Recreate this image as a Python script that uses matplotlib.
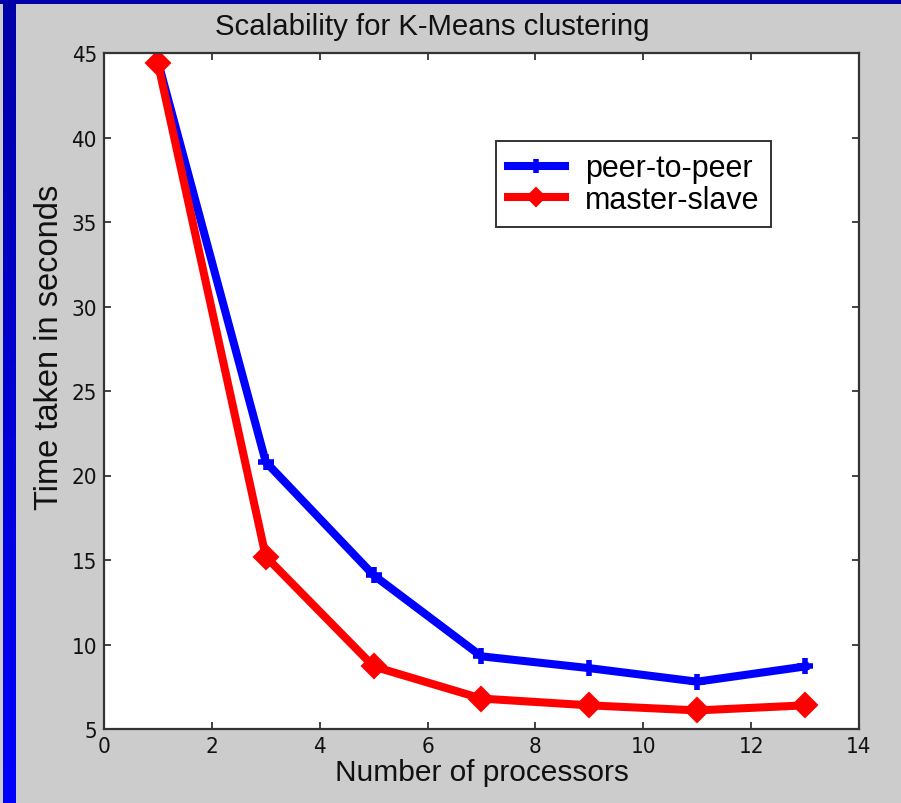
import matplotlib
matplotlib.use("Agg")
import matplotlib.pyplot as plt
import numpy as np
from matplotlib.patches import Rectangle
from matplotlib.colors import LinearSegmentedColormap
from matplotlib import font_manager

# ---- data ----
processors = [1, 3, 5, 7, 9, 11, 13]
peer_to_peer = [44.5, 20.8, 14.1, 9.3, 8.6, 7.8, 8.7]
master_slave = [44.4, 15.2, 8.7, 6.8, 6.4, 6.1, 6.4]
series_labels = ["peer-to-peer", "master-slave"]
x_ticks = [0, 2, 4, 6, 8, 10, 12, 14]
y_ticks = [5, 10, 15, 20, 25, 30, 35, 40, 45]
title = "Scalability for K-Means clustering"
x_label = "Number of processors"
y_label = "Time taken in seconds"

W, H = 901, 804
fig = plt.figure(figsize=(W / 100, H / 100), dpi=100, facecolor="#cccccc")

# frame decoration (blue bands)
fig.add_artist(Rectangle((0, 1 - 5 / H), 1, 5 / H, transform=fig.transFigure,
                         facecolor="#0000a8", edgecolor="none", zorder=0))
gax = fig.add_axes([3 / W, 0, 13 / W, 1 - 5 / H], zorder=0)
grad = np.linspace(0, 1, 256).reshape(-1, 1)
cmap = LinearSegmentedColormap.from_list("b", ["#0000ff", "#0000a8"])
gax.imshow(grad, aspect="auto", cmap=cmap, origin="lower", extent=[0, 1, 0, 1])
gax.axis("off")

ax = fig.add_axes([104 / W, (H - 730) / H, 755 / W, 676 / H])
ax.set_facecolor("white")

ax.plot(processors, peer_to_peer, color="#0000ff", lw=5.8, marker="+",
        ms=12, mew=4, mec="#0000ff", label=series_labels[0])
ax.plot(processors, master_slave, color="#ff0000", lw=5.8, marker="D",
        ms=12, mew=1.5, mec="#ff0000", mfc="#ff0000", label=series_labels[1])

ax.set_xlim(0, 14)
ax.set_ylim(5, 45)
ax.set_xticks(x_ticks)
ax.set_yticks(y_ticks)

names = {f.name for f in font_manager.fontManager.ttflist}
if "Liberation Sans Narrow" in names:
    tick_font, tick_stretch = ["Liberation Sans Narrow", "DejaVu Sans"], "normal"
else:
    tick_font, tick_stretch = ["DejaVu Sans"], "condensed"

ax.tick_params(direction="in", length=5, width=1.2, top=True, right=True,
               color="#222222", labelsize=16, pad=5)
for lbl in ax.get_xticklabels() + ax.get_yticklabels():
    lbl.set_family(tick_font)
    lbl.set_stretch(tick_stretch)
    lbl.set_color("#111111")
for s in ax.spines.values():
    s.set_linewidth(1.6)
    s.set_color("#333333")

txt_font = ["Liberation Sans", "DejaVu Sans"]
fig.text(432 / W, 1 - 27 / H, title, ha="center", va="center",
         fontsize=21.2, family=txt_font, color="#111111")
fig.text(482 / W, 1 - 773 / H, x_label, ha="center", va="center",
         fontsize=21.5, family=txt_font, color="#111111")
fig.text(50 / W, 1 - 347 / H, y_label, ha="center", va="center", rotation=90,
         fontsize=23.5, family=txt_font, color="#111111")

leg = ax.legend(loc="upper left", bbox_to_anchor=(496 / W, 1 - 142 / H),
                bbox_transform=fig.transFigure, borderaxespad=0,
                fancybox=False, shadow=False, framealpha=1,
                edgecolor="#333333", prop={"family": txt_font, "size": 22},
                handlelength=1.85, handletextpad=0.65, borderpad=0.4,
                labelspacing=0.05, markerscale=0.8)
leg.get_frame().set_linewidth(1.4)

fig.savefig("out.png", dpi=100, facecolor=fig.get_facecolor())
